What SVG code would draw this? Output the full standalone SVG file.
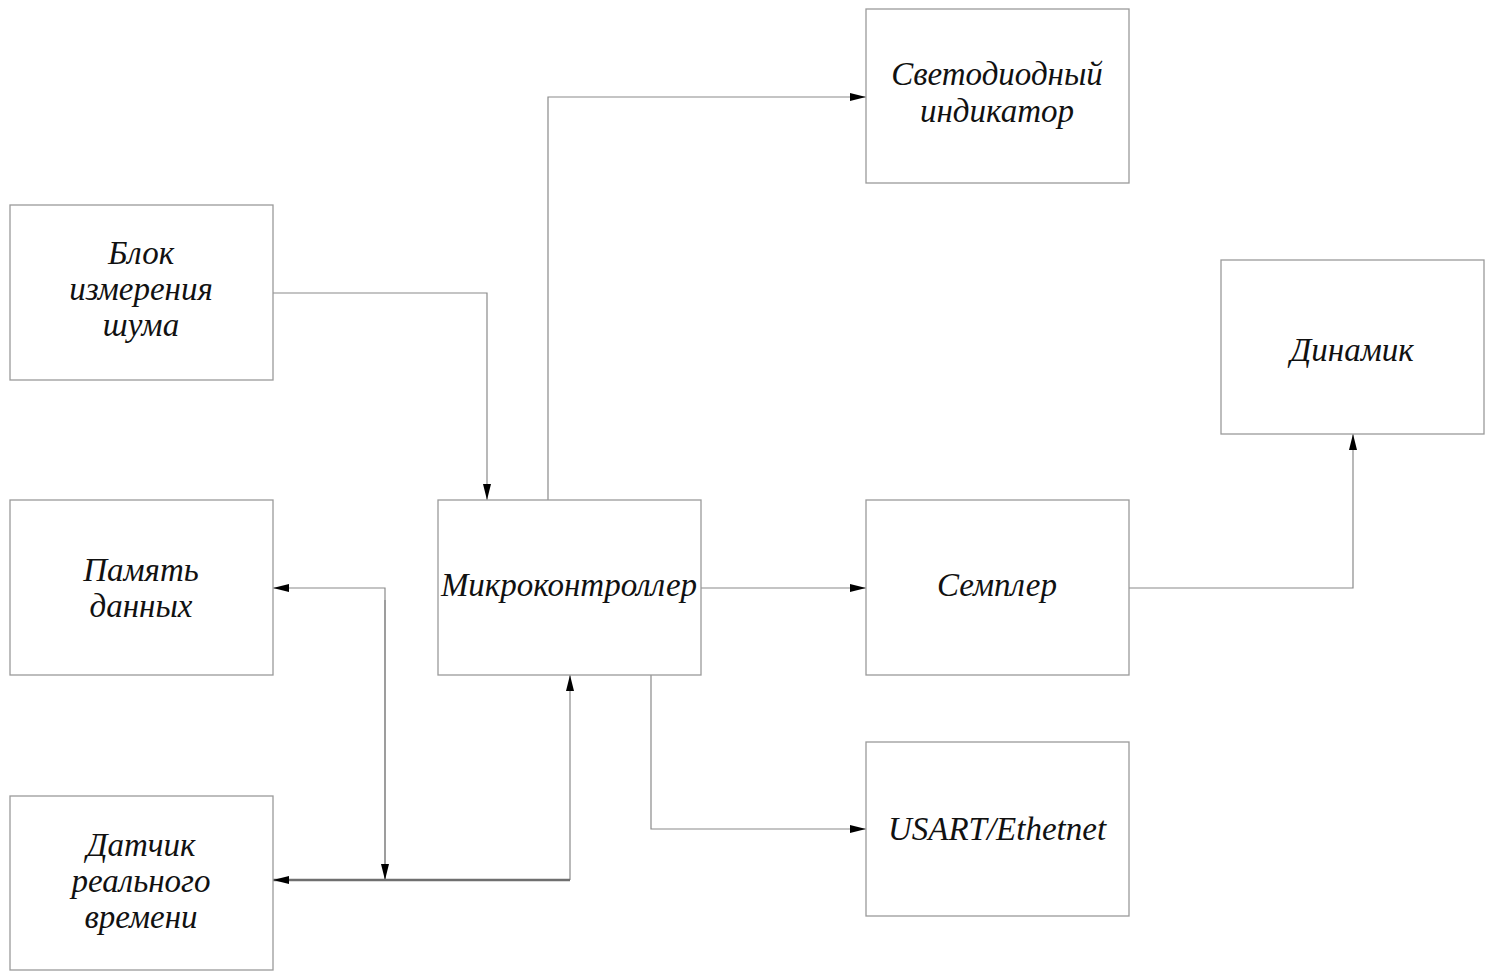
<svg xmlns="http://www.w3.org/2000/svg" width="1485" height="976" viewBox="0 0 1485 976">
  <style>
    .box { fill: #ffffff; stroke: #9a9a9a; stroke-width: 1.3; }
    .lbl { font-family: "Liberation Serif", "Times New Roman", serif; font-style: italic; font-size: 33px; fill: #111; text-anchor: middle; }
    .wire { fill: none; stroke: #8a8a8a; stroke-width: 1.2; }
    .bus { fill: none; stroke: #6f6f6f; stroke-width: 2.4; }
  </style>
  <defs>
    <marker id="arr" viewBox="0 0 16 10" refX="16" refY="5" markerWidth="16" markerHeight="10" markerUnits="userSpaceOnUse" orient="auto">
      <path d="M0,1 L16,5 L0,9 Z" fill="#000"/>
    </marker>
  </defs>
  <rect width="1485" height="976" fill="#ffffff"/>

  <g id="connectors">
    <polyline class="wire" points="273,293 487,293 487,500" marker-end="url(#arr)"/>
    <polyline class="wire" points="548,500 548,97 866,97" marker-end="url(#arr)"/>
    <line class="wire" x1="701" y1="588" x2="866" y2="588" marker-end="url(#arr)"/>
    <polyline class="wire" points="1129,588 1353,588 1353,434" marker-end="url(#arr)"/>
    <polyline class="wire" points="651,675 651,829 866,829" marker-end="url(#arr)"/>
    <polyline class="wire" points="385,880 385,588 273,588" marker-end="url(#arr)"/>
    <line class="wire" x1="385" y1="600" x2="385" y2="880" marker-end="url(#arr)"/>
    <line class="wire" x1="570" y1="880" x2="570" y2="675" marker-end="url(#arr)"/>
    <polyline class="bus" points="570,880 273,880" marker-end="url(#arr)"/>
  </g>

  <g id="noise">
    <rect class="box" x="10" y="205" width="263" height="175"/>
    <text class="lbl" x="141" y="264">Блок</text>
    <text class="lbl" x="141" y="300">измерения</text>
    <text class="lbl" x="141" y="336">шума</text>
  </g>
  <g id="memory">
    <rect class="box" x="10" y="500" width="263" height="175"/>
    <text class="lbl" x="141" y="581">Память</text>
    <text class="lbl" x="141" y="617">данных</text>
  </g>
  <g id="rtc">
    <rect class="box" x="10" y="796" width="263" height="174"/>
    <text class="lbl" x="141" y="856">Датчик</text>
    <text class="lbl" x="141" y="892">реального</text>
    <text class="lbl" x="141" y="928">времени</text>
  </g>
  <g id="mcu">
    <rect class="box" x="438" y="500" width="263" height="175"/>
    <text class="lbl" x="569" y="596">Микроконтроллер</text>
  </g>
  <g id="led">
    <rect class="box" x="866" y="9" width="263" height="174"/>
    <text class="lbl" x="997" y="85">Светодиодный</text>
    <text class="lbl" x="997" y="122">индикатор</text>
  </g>
  <g id="sampler">
    <rect class="box" x="866" y="500" width="263" height="175"/>
    <text class="lbl" x="997" y="596">Семплер</text>
  </g>
  <g id="usart">
    <rect class="box" x="866" y="742" width="263" height="174"/>
    <text class="lbl" x="997" y="840">USART/Ethetnet</text>
  </g>
  <g id="speaker">
    <rect class="box" x="1221" y="260" width="263" height="174"/>
    <text class="lbl" x="1352" y="361">Динамик</text>
  </g>
</svg>
